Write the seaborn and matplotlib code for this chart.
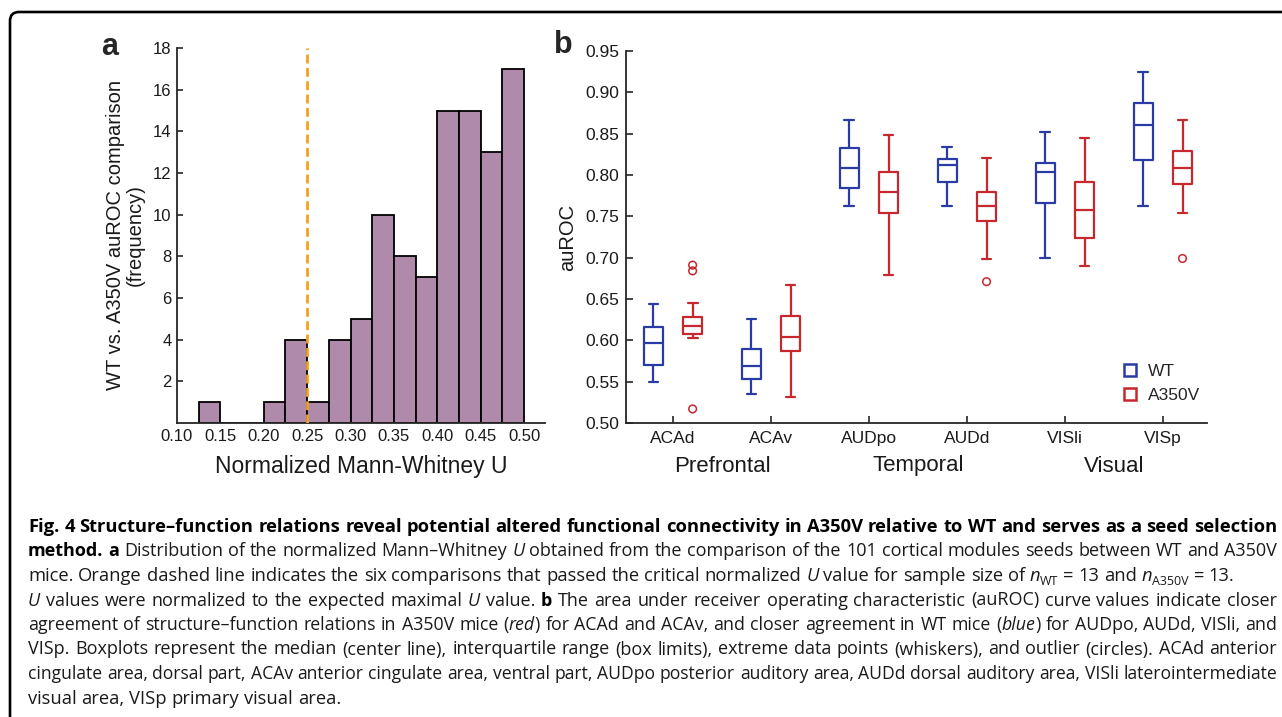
import numpy as np
import pandas as pd
import matplotlib
matplotlib.use("Agg")
import matplotlib.pyplot as plt
import matplotlib.transforms as mtransforms
import seaborn as sns
from matplotlib.patches import FancyBboxPatch
from matplotlib.lines import Line2D

# ---------------- panel a data ----------------
u_bin_edges = [0.125, 0.150, 0.175, 0.200, 0.225, 0.250, 0.275, 0.300,
               0.325, 0.350, 0.375, 0.400, 0.425, 0.450, 0.475, 0.500]
u_counts = [1, 0, 0, 1, 4, 1, 4, 5, 10, 8, 7, 15, 15, 13, 17]
u_critical = 0.25
a_xticks = [0.10, 0.15, 0.20, 0.25, 0.30, 0.35, 0.40, 0.45, 0.50]
a_yticks = [2, 4, 6, 8, 10, 12, 14, 16, 18]

# ---------------- panel b data ----------------
regions = ["ACAd", "ACAv", "AUDpo", "AUDd", "VISli", "VISp"]
groups = ["WT", "A350V"]
areas = ["Prefrontal", "Temporal", "Visual"]
area_of_region = ["Prefrontal", "Prefrontal", "Temporal", "Temporal", "Visual", "Visual"]
# five-number summaries (whisker low, Q1, median, Q3, whisker high)
wt_low = [0.549, 0.535, 0.763, 0.763, 0.700, 0.763]
wt_q1 = [0.570, 0.553, 0.784, 0.792, 0.766, 0.818]
wt_med = [0.597, 0.569, 0.809, 0.812, 0.804, 0.860]
wt_q3 = [0.616, 0.590, 0.833, 0.819, 0.815, 0.887]
wt_high = [0.644, 0.626, 0.866, 0.834, 0.852, 0.924]
mut_low = [0.603, 0.531, 0.679, 0.698, 0.690, 0.754]
mut_q1 = [0.608, 0.587, 0.754, 0.744, 0.724, 0.789]
mut_med = [0.617, 0.604, 0.779, 0.762, 0.758, 0.809]
mut_q3 = [0.628, 0.629, 0.804, 0.779, 0.792, 0.829]
mut_high = [0.645, 0.667, 0.848, 0.821, 0.845, 0.866]
flier_region = ["ACAd", "ACAd", "ACAd", "AUDd", "VISp"]
flier_group = ["A350V", "A350V", "A350V", "A350V", "A350V"]
flier_value = [0.691, 0.684, 0.517, 0.671, 0.699]
b_yticks = [0.50, 0.55, 0.60, 0.65, 0.70, 0.75, 0.80, 0.85, 0.90, 0.95]

# ---------------- caption ----------------
caption_lines = [
    ([("Fig. 4 Structure\u2013function relations reveal potential altered functional connectivity in A350V relative to WT and serves as a seed selection", "b")], True),
    ([("method.", "b"), (" ", "r"), ("a", "b"),
      (" Distribution of the normalized Mann\u2013Whitney ", "r"), ("U", "i"),
      (" obtained from the comparison of the 101 cortical modules seeds between WT and A350V", "r")], True),
    ([("mice. Orange dashed line indicates the six comparisons that passed the critical normalized ", "r"),
      ("U", "i"), (" value for sample size of ", "r"), ("n", "i"), ("WT", "sub"), (" = 13 and ", "r"),
      ("n", "i"), ("A350V", "sub"), (" = 13.", "r")], False),
    ([("U", "i"), (" values were normalized to the expected maximal ", "r"), ("U", "i"), (" value. ", "r"),
      ("b", "b"), (" The area under receiver operating characteristic (auROC) curve values indicate closer", "r")], True),
    ([("agreement of structure\u2013function relations in A350V mice (", "r"), ("red", "i"),
      (") for ACAd and ACAv, and closer agreement in WT mice (", "r"), ("blue", "i"),
      (") for AUDpo, AUDd, VISli, and", "r")], True),
    ([("VISp. Boxplots represent the median (center line), interquartile range (box limits), extreme data points (whiskers), and outlier (circles). ACAd anterior", "r")], True),
    ([("cingulate area, dorsal part, ACAv anterior cingulate area, ventral part, AUDpo posterior auditory area, AUDd dorsal auditory area, VISli laterointermediate", "r")], True),
    ([("visual area, VISp primary visual area.", "r")], False),
]

# ---------------- style ----------------
sns.set_style("ticks")
plt.rcParams["font.family"] = ["Liberation Sans", "DejaVu Sans"]
plt.rcParams["xtick.direction"] = "in"
plt.rcParams["ytick.direction"] = "in"
plt.rcParams["axes.linewidth"] = 1.3

W, H = 1282, 717
fig = plt.figure(figsize=(W / 100, H / 100), dpi=100)

def px_rect(x0, y0, x1, y1):
    return [x0 / W, 1 - y1 / H, (x1 - x0) / W, (y1 - y0) / H]

PURPLE = "#AF8AAB"
ORANGE = "#F0A31C"
BLUE = "#2B3BA6"
RED = "#C7282E"
TXT = "#1a1a1a"

# ---------------- panel a ----------------
ax_a = fig.add_axes(px_rect(177, 48, 545, 423))
centers = [(u_bin_edges[i] + u_bin_edges[i + 1]) / 2 for i in range(len(u_counts))]
sns.histplot(x=centers, weights=u_counts, bins=u_bin_edges, color=PURPLE,
             edgecolor="black", linewidth=1.3, alpha=1, ax=ax_a)
ax_a.axvline(u_critical, color=ORANGE, lw=2.0, ls=(0, (3.2, 1.6)), zorder=5)
ax_a.set_xlim(0.10, 0.524)
ax_a.set_ylim(0, 18)
ax_a.set_xticks(a_xticks)
ax_a.set_xticklabels([f"{v:.2f}" for v in a_xticks], fontsize=12, color=TXT)
ax_a.set_yticks(a_yticks)
ax_a.set_yticklabels([str(v) for v in a_yticks], fontsize=12, color=TXT)
ax_a.tick_params(axis="x", length=0, pad=4)
ax_a.tick_params(axis="y", length=4.5, width=1.2, pad=4)
ax_a.set_xlabel("Normalized Mann-Whitney U", fontsize=16.5, labelpad=8, color=TXT)
ax_a.set_ylabel("WT vs. A350V auROC comparison\n(frequency)", fontsize=14.5,
                labelpad=6, linespacing=1.05, color=TXT)
sns.despine(ax=ax_a)

# ---------------- panel b ----------------
ax_b = fig.add_axes(px_rect(626, 51, 1207, 423))
rows = []
for i, r in enumerate(regions):
    for v in (wt_low[i], wt_q1[i], wt_med[i], wt_q3[i], wt_high[i]):
        rows.append((r, "WT", v))
    for v in (mut_low[i], mut_q1[i], mut_med[i], mut_q3[i], mut_high[i]):
        rows.append((r, "A350V", v))
df = pd.DataFrame(rows, columns=["region", "group", "auROC"])
pal = {"WT": BLUE, "A350V": RED}
sns.boxplot(data=df, x="region", y="auROC", hue="group", order=regions,
            hue_order=groups, palette=pal, fill=False, width=0.8, gap=0.5,
            whis=np.inf, linewidth=1.6, legend=False, ax=ax_b)
fl = pd.DataFrame({"region": flier_region, "group": flier_group, "auROC": flier_value})
n0 = len(ax_b.collections)
sns.stripplot(data=fl, x="region", y="auROC", hue="group", order=regions,
              hue_order=groups, palette=pal, dodge=True, jitter=False, size=5.5,
              legend=False, ax=ax_b)
for coll in ax_b.collections[n0:]:
    fc = coll.get_facecolors()
    coll.set_edgecolors(fc)
    coll.set_facecolors("none")
    coll.set_linewidths(1.1)
ax_b.set_xlim(-0.48, 5.45)
ax_b.set_ylim(0.5, 0.95)
ax_b.set_yticks(b_yticks)
ax_b.set_yticklabels([f"{v:.2f}" for v in b_yticks], fontsize=12.5, color=TXT)
ax_b.set_xticklabels(regions, fontsize=12.5, color=TXT)
ax_b.tick_params(axis="both", length=5, width=1.2)
ax_b.tick_params(axis="y", pad=5)
ax_b.tick_params(axis="x", pad=6)
ax_b.set_xlabel("")
ax_b.set_ylabel("auROC", fontsize=14.5, labelpad=6, color=TXT)
sns.despine(ax=ax_b)

blend = mtransforms.blended_transform_factory(ax_b.transData, fig.transFigure)
for area in areas:
    idx = [i for i, a in enumerate(area_of_region) if a == area]
    ax_b.text(np.mean(idx), 1 - 466 / H, area, transform=blend, ha="center",
              va="center", fontsize=16, color=TXT)

handles = [Line2D([], [], marker="s", ls="none", mfc="none", mec=pal[g], mew=1.8, ms=9)
           for g in groups]
ax_b.legend(handles, groups, loc="lower right", bbox_to_anchor=(1.0, 0.035),
            frameon=False, fontsize=12.5, handlelength=0.8, handletextpad=0.6,
            labelspacing=0.5, borderaxespad=0)

fig.text(110 / W, 1 - 47 / H, "a", fontsize=22, fontweight="bold", ha="center", va="center")
fig.text(563 / W, 1 - 45 / H, "b", fontsize=22, fontweight="bold", ha="center", va="center")

# ---------------- border ----------------
border = FancyBboxPatch((10, -40), 1340, 717 - 12 + 40,
                        boxstyle="round,pad=0,rounding_size=9",
                        transform=mtransforms.IdentityTransform(),
                        fill=False, lw=1.9, ec="black")
fig.patches.append(border)

# ---------------- caption ----------------
CAP_FONT = "Open Sans"
CAP_SIZE = 13.2

def make_props(size):
    return {
        "r": dict(family=CAP_FONT, size=size, color=TXT),
        "b": dict(family=CAP_FONT, size=size, color="black", weight="bold"),
        "i": dict(family=CAP_FONT, size=size, color=TXT, style="italic"),
        "sub": dict(family=CAP_FONT, size=size * 0.68, color=TXT),
    }

renderer = fig.canvas.get_renderer()

def seg_width(text, props):
    t = fig.text(0, 0, text, **props)
    w = t.get_window_extent(renderer).width
    t.remove()
    return w

def tokenize(runs):
    words = [[]]
    for text, st in runs:
        parts = text.split(" ")
        for k, p in enumerate(parts):
            if k > 0:
                words.append([])
            if p:
                words[-1].append((p, st))
    return [w for w in words if w]

X0, X1 = 28, 1277

def draw_line(runs, y_base, justify):
    words = tokenize(runs)
    size = CAP_SIZE
    while True:
        props = make_props(size)
        space_w = seg_width("n n", props["r"]) - seg_width("nn", props["r"])
        widths = [[seg_width(t, props[st]) for t, st in w] for w in words]
        total = sum(sum(ws) for ws in widths)
        natural = total + space_w * (len(words) - 1)
        if natural <= (X1 - X0) + 2 or size < 8:
            break
        size *= 0.985
    gap = space_w
    if justify and len(words) > 1:
        gap = (X1 - X0 - total) / (len(words) - 1)
    x = X0
    for w, ws in zip(words, widths):
        for (t, st), sw in zip(w, ws):
            yy = y_base + (4 if st == "sub" else 0)
            fig.text(x / W, 1 - yy / H, t, ha="left", va="baseline", **props[st])
            x += sw
        x += gap

BASE0, LSTEP = 532, 24.5
for k, (runs, just) in enumerate(caption_lines):
    draw_line(runs, BASE0 + k * LSTEP, just)

fig.savefig("out.png", dpi=100)
